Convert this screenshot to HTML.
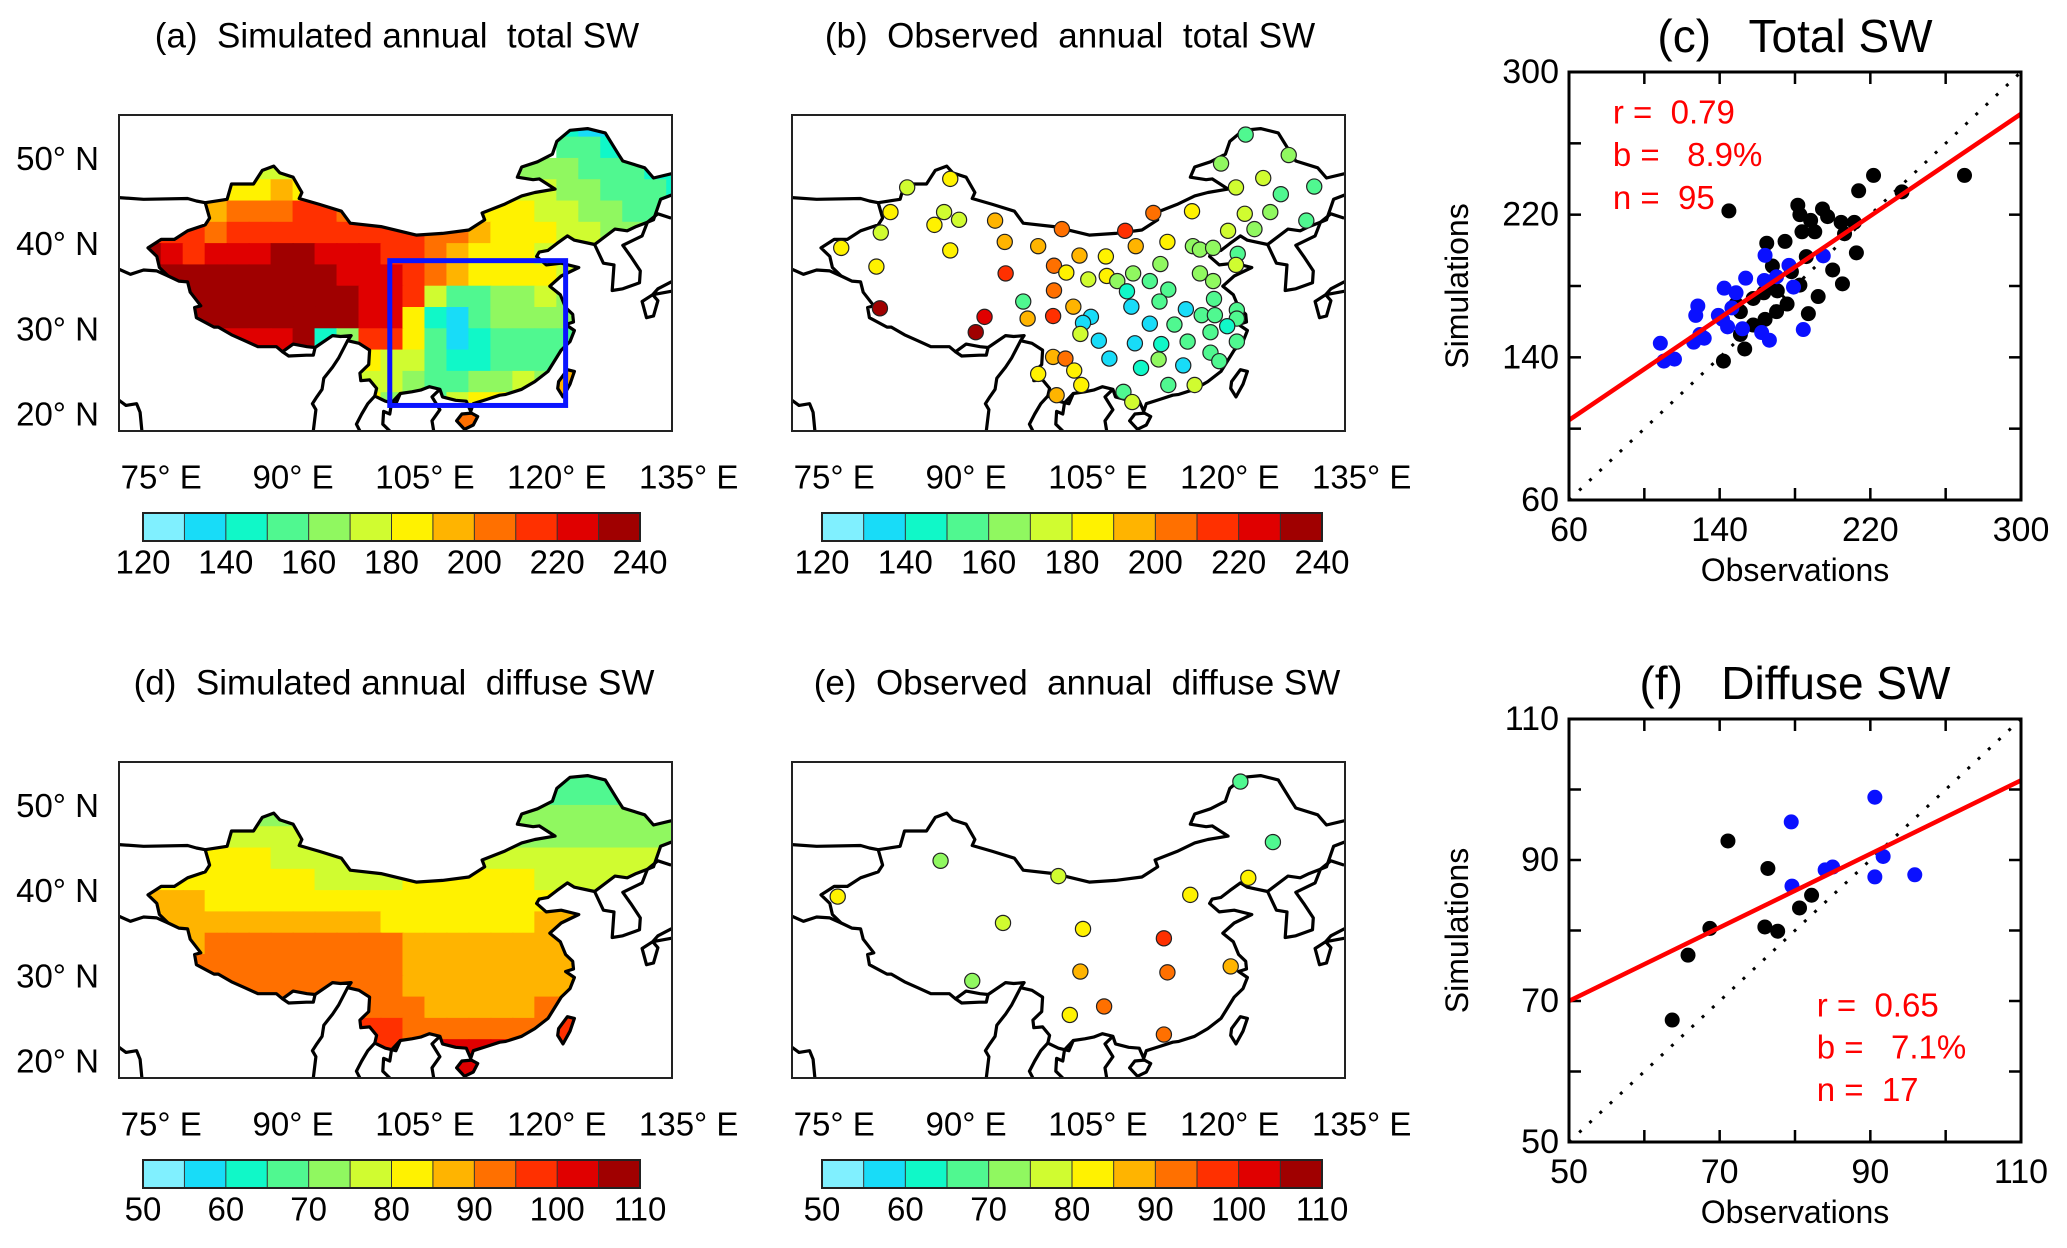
<!DOCTYPE html>
<html><head><meta charset="utf-8">
<style>
html,body{margin:0;padding:0;background:#fff;}
svg{display:block;font-family:"Liberation Sans",Arial,sans-serif;}
text{white-space:pre;}
</style></head>
<body>
<svg id="fig" xmlns="http://www.w3.org/2000/svg" width="2067" height="1248" viewBox="0 0 2067 1248"></svg>
<script>
// ---------- DATA ----------
const palette = ["#80f0ff","#18dcf8","#10f8c8","#50f890","#90f860","#d0fc30","#fff200","#ffb400","#ff7000","#ff3000","#e00000","#a00000"];
const totalTicks = ["120","140","160","180","200","220","240"];
const diffuseTicks = ["50","60","70","80","90","100","110"];
const lonTicks = [75,90,105,120,135];
const latTicks = [50,40,30,20];
// Simulated annual total SW, 2.5deg cells (bin index 0-11 as chars), rows from 55N down, cols from 72.5E
const gridTotal = [
"...................2112..",
"...................332222",
"....5555........544433322",
"...6667667.....6555443332",
".777888998888776665544333",
"9998999999999887666554433",
"ba9aaabbaaa99876665544444",
"bbbbbbbbbaaa9876666555555",
"bbbbbbbbbbaa9533445444444",
"aabbbbbbbbaa6213444444444",
"aaaaaaab24996312333333333",
"aaaaaaaaaa655322333333333",
"6666666666554334454777777",
"6666666666644356666777777",
"8888888888888888888888888"
];
// Simulated annual diffuse SW
const gridDiffuse = [
"3333333333333333333333333",
"3333333333333333333333333",
"4444444444444444444444444",
"5555555555555555544444444",
"5556665555555555555555555",
"6666666655556666665555555",
"7776666666666666666666666",
"7777777777766666667777777",
"7778888888887777777777777",
"8888888888887777777777777",
"8888888888887777777777777",
"8888888888888777778888888",
"9999999999998888888999999",
"9999999999999aaaa99999999",
"aaaaaaaaaaaaaaaaaaaaaaaaa"
];
// Observed total SW stations
const obsTotalLon = [121.8,126.7,119.0,123.8,129.6,120.7,125.8,88.2,83.3,81.4,87.5,86.4,89.2,93.3,80.3,75.8,88.2,79.8,111.3,115.7,121.7,124.6,128.7,100.9,108.1,119.8,122.8,94.4,98.2,109.3,112.9,115.8,116.6,118.1,120.9,102.9,105.9,100.0,101.4,112.1,120.7,94.5,103.9,106.0,107.2,109.0,110.9,116.6,118.1,100.0,108.3,113.0,118.2,112.0,80.2,96.5,102.2,108.8,115.0,116.8,118.3,120.8,120.8,92.1,97.0,99.9,104.2,103.3,110.9,113.7,119.7,91.1,103.0,105.1,109.2,112.2,115.2,117.8,120.8,99.9,101.3,106.3,111.9,117.8,118.8,102.3,109.9,114.7,98.2,103.1,107.9,113.0,116.0,100.3,108.9];
const obsTotalLat = [52.8,50.4,49.4,47.7,46.7,46.6,45.8,47.6,46.6,43.7,43.7,42.2,42.8,42.7,41.3,39.5,39.2,37.3,43.6,43.8,43.5,43.7,42.7,41.7,41.5,41.5,41.7,40.2,39.7,39.7,40.2,39.7,39.3,39.5,38.8,38.6,38.5,37.4,36.6,37.6,37.5,36.5,35.8,36.2,35.6,36.5,35.6,36.5,35.6,34.5,34.4,34.6,33.5,33.2,32.4,33.2,32.6,32.6,32.3,31.6,31.6,32.2,31.2,31.4,31.2,31.5,31.4,30.7,30.6,30.5,30.3,29.6,29.4,28.6,28.3,28.2,28.5,29.6,28.5,26.7,26.5,26.5,26.4,27.2,26.2,25.1,25.4,25.7,24.7,23.4,22.6,23.4,23.4,22.2,21.4];
const obsTotalBin = [3,4,4,5,3,5,3,6,5,6,5,6,5,7,5,6,6,6,8,6,5,4,3,8,9,5,4,7,7,7,6,4,4,4,3,7,6,8,6,4,5,9,5,6,4,4,3,4,4,8,2,3,3,3,11,3,7,1,1,3,3,3,3,10,7,9,1,1,1,3,2,11,5,1,1,2,3,3,3,7,8,1,4,3,3,6,2,1,6,6,3,3,5,7,5];
// Observed diffuse SW stations
const obsDiffLon = [121.2,124.9,87.1,100.5,75.4,115.5,122.1,94.2,103.3,112.5,90.7,103.0,112.9,120.1,105.7,101.8,112.5];
const obsDiffLat = [52.8,45.7,43.5,41.7,39.3,39.5,41.5,36.2,35.5,34.4,29.4,30.5,30.4,31.1,26.4,25.4,23.1];
const obsDiffBin = [3,3,4,5,6,6,6,5,6,9,4,7,8,7,8,6,8];
// Scatter (c) total SW
const cBlackObs = [221.7,270,213.8,236.8,144.9,181.5,194.6,182.6,188.3,197.3,204.5,211.5,206.3,190.5,183.7,174.7,165,186,212.6,168,200,205.2,178.1,182.6,168,170.6,192.3,157.8,175.8,170.2,187.1,164.1,151,157.8,151,153.3,142,148.7,163.4];
const cBlackSim = [242,242,233.4,232.8,222.1,225.3,223.2,220,216.8,218.9,215.7,215.7,209.3,210.4,210.4,205,204,196.5,198.6,191.2,189,181.2,188,180.5,179.4,177.3,174.1,173,169.9,165.6,164.5,161.3,165.6,158.1,152.8,144.7,137.9,169.9,176.2];
const cBlueObs = [164.1,195,176.8,153.8,163.7,170.2,179.2,142.4,128.4,127.3,141.5,148.7,146.5,152.1,162.3,166.4,184.4,129.5,131.8,126.2,108.5,110.4,116,139.3,144.2];
const cBlueSim = [197.2,196.9,191.6,184.4,183.1,185.2,179.4,178.8,168.8,163.5,161.3,176.2,167.7,156,153.9,149.6,155.6,152.8,150.7,148.5,147.9,137.9,139,163.5,157.1];
const cFitX = [60,300];
const cFitY = [104.8,276.5];
const cStats = ["r =  0.79","b =   8.9%","n =  95"];
const cXTicks = [60,140,220,300];
const cYTicks = [60,140,220,300];
// Scatter (f) diffuse SW
const fBlackObs = [63.7,65.8,68.7,71.1,76.4,76.0,77.7,80.6,82.2];
const fBlackSim = [67.3,76.5,80.3,92.7,88.8,80.5,79.9,83.2,85.0];
const fBlueObs = [79.5,90.6,79.6,84.0,85.0,91.7,90.6,95.9];
const fBlueSim = [95.4,98.9,86.3,88.6,89.0,90.5,87.6,87.9];
const fFitX = [50,110];
const fFitY = [70.0,101.3];
const fStats = ["r =  0.65","b =   7.1%","n =  17"];
const fXTicks = [50,70,90,110];
const fYTicks = [50,70,90,110];
// Geography (lon, lat)
const chinaBorder = [[73.5,39.5],[75,40.5],[76.5,40.5],[78,41.5],[80,42.2],[80.5,43],[80,44.8],[82.5,45.2],[83,47],[85.5,47],[86.5,48.6],[87.8,49.1],[88.5,48.3],[90,47.8],[91,46],[90.7,45.3],[93,44.6],[95.5,43.8],[96.5,42.4],[100,42],[104,41],[107,41.2],[110,41.6],[111.8,42.8],[111.5,43.6],[114,44.6],[116,45.6],[117.5,46],[119.8,46.4],[118,47.6],[117.3,47.5],[115.5,47.8],[116,49],[117.8,49.6],[119.5,50.5],[120,52],[121.5,53.3],[123.5,53.5],[125.5,53],[127,50.5],[127.5,49.7],[130,48.9],[131,47.7],[133,48.2],[134.7,48.3],[133.8,46],[131.8,45.2],[131,42.8],[130.3,42.5],[129,42],[128,41.5],[126.6,41.7],[124.3,39.9],[122,40.4],[121.2,40.9],[120,40],[119,39.2],[118,39],[117.7,38.5],[118.8,37.5],[120.5,37.7],[122.5,37.2],[120.5,36.2],[119.2,35],[120.4,34],[121,32.5],[121.8,31.7],[121.9,30.8],[121,30.5],[122,29.8],[121.5,28.5],[120.5,27.5],[119.6,26],[119,25],[117.5,23.8],[116,22.9],[114.2,22.3],[113.5,22.2],[112,21.7],[110.5,21.2],[110.2,20.3],[109.7,21.5],[108.5,21.6],[107,22],[106.7,22.9],[105.5,23.2],[104.5,22.8],[103.5,22.6],[102.2,22.4],[101.7,21.2],[100.5,21.5],[99.3,22.1],[99.5,23],[98.7,24],[97.7,23.9],[97.6,24.8],[98.6,25.8],[98.7,27.5],[97.5,28.3],[96.2,28.6],[96.6,29.2],[95.4,29.1],[94.5,29.2],[92.5,27.8],[91.6,27.9],[90,28.2],[88.8,27.3],[88.1,27.9],[86,27.9],[84.5,28.6],[83,29.3],[81.5,30.2],[81,30.2],[79,31.3],[78.8,32.5],[79.5,32.7],[78.3,34.3],[78,35.5],[77,35.6],[75.8,36.2],[74.8,37.2],[74.5,38.5],[73.5,39.5]];
const hainan = [[108.6,19.2],[109.5,18.2],[110.5,18.7],[111,19.7],[110.3,20.1],[109.2,20]];
const taiwan = [[120.1,23],[120.7,22],[121.5,23.5],[122,25],[121.2,25.2],[120.2,23.8]];
const otherLines = [
 [[124.3,39.9],[125.3,37.7],[126.5,37.5],[126.3,34.5],[127.5,34.7],[129.4,35.4],[129.5,36.8],[128.4,38.5],[127.5,39.8],[129.7,40.9],[130.3,42.5]],
 [[130.9,34],[131.5,33.3],[131,31.5],[130.2,31.3],[129.7,33.2],[130.9,34],[133,34.4],[135,34.6],[135,35.6],[133,35.5],[131.5,34.7],[130.9,34]],
 [[134.7,48.3],[136,49]],
 [[130.3,42.5],[131.5,43.5],[133,43]],
 [[70.2,21.6],[71,21],[72.2,21.2],[72.6,20.2],[72.8,18]],
 [[92.3,18],[92.6,20.5],[92.2,21.2],[92.7,22],[93.3,22.9],[93.5,24.2],[94.5,25.5],[95.2,26.6],[96.2,28.6]],
 [[88.8,27.3],[89.5,26.8],[91.5,26.9],[92.3,26.9],[92.5,27.8]],
 [[99.3,22.1],[98.5,21.2],[97.8,20],[97.2,18.8],[97.6,18]],
 [[102.2,22.4],[101.2,21.3],[101,20],[100.3,20.3],[100.2,18.8],[101,18]],
 [[106.7,22.9],[105.8,22],[106.7,20.5],[105.8,19.2],[106,18]],
 [[75.8,36.2],[74.5,36.8],[73,36.9],[71.5,36.4],[70.2,37]],
 [[80,44.8],[79,45],[78,45.3],[73,45.2],[70.2,45.4]]
];
const blueBox = [101,121,21,38];

// ---------- HELPERS ----------
const NS = "http://www.w3.org/2000/svg";
const svg = document.getElementById("fig");
function mk(tag, attrs, parent) {
  const e = document.createElementNS(NS, tag);
  for (const k in attrs) e.setAttribute(k, attrs[k]);
  (parent || svg).appendChild(e);
  return e;
}
function txt(str, x, y, size, anchor, parent, fill) {
  const t = mk("text", {x: x, y: y, "font-size": size, "text-anchor": anchor || "middle", "dominant-baseline": "central", fill: fill || "#000"}, parent);
  t.textContent = str;
  return t;
}
const LON0 = 70.2, LON1 = 133.1, LAT0 = 55.1, LAT1 = 18.0, MW = 553, MH = 316;
function proj(box, lon, lat) {
  return [box.x + (lon - LON0) / (LON1 - LON0) * MW, box.y + (LAT0 - lat) / (LAT0 - LAT1) * MH];
}
function ptsStr(box, arr) { return arr.map(p => proj(box, p[0], p[1]).map(v => v.toFixed(1)).join(",")).join(" "); }

function drawMapFrame(box, id, title, labelX) {
  const g = mk("g", {});
  
  
  const tt = txt(title, labelX, box.y - 79, 35, "middle", g);
  
  
  const cp = mk("clipPath", {id: "clip-" + id}, g);
  mk("polygon", {points: ptsStr(box, chinaBorder)}, cp);
  mk("polygon", {points: ptsStr(box, hainan)}, cp);
  mk("polygon", {points: ptsStr(box, taiwan)}, cp);
  const fc = mk("clipPath", {id: "frame-" + id}, g);
  mk("rect", {x: box.x, y: box.y, width: MW, height: MH}, fc);
  return g;
}
function drawGrid(g, box, id, grid) {
  const outer = mk("g", {"clip-path": "url(#frame-" + id + ")"}, g);
  const cells = mk("g", {"clip-path": "url(#clip-" + id + ")"}, outer);
  
  
  grid.forEach((row, r) => {
    for (let c = 0; c < row.length; c++) {
      const ch = row[c];
      if (ch === ".") continue;
      const bin = parseInt(ch, 16);
      const lonA = 72.5 + 2.5 * c, latA = 55 - 2.5 * r;
      const lonS = c === 0 ? 70 : lonA;
      const p0 = proj(box, lonS, latA), p1 = proj(box, lonA + 2.5, latA - 2.5);
      const rc = mk("rect", {x: p0[0] - 0.5, y: p0[1] - 0.5, width: p1[0] - p0[0] + 1, height: p1[1] - p0[1] + 1, fill: palette[bin]}, cells);
      
      
    }
  });
}
function drawBorders(g, box, id) {
  const lg = mk("g", {"clip-path": "url(#frame-" + id + ")", fill: "none", stroke: "#000", "stroke-width": 3.2, "stroke-linejoin": "round"}, g);
  
  
  mk("polygon", {points: ptsStr(box, chinaBorder)}, lg);
  mk("polygon", {points: ptsStr(box, hainan)}, lg);
  mk("polygon", {points: ptsStr(box, taiwan)}, lg);
  otherLines.forEach(l => mk("polyline", {points: ptsStr(box, l)}, lg));
  const fr = mk("rect", {x: box.x, y: box.y, width: MW, height: MH, fill: "none", stroke: "#222", "stroke-width": 2}, g);
  
  
}
function drawLatLabels(box, id) {
  latTicks.forEach(lat => {
    const y = proj(box, LON0, lat)[1];
    const t = txt(lat + "° N", box.x - 20, y, 33, "end");
    
    
  });
}
function drawLonLabels(box, id) {
  lonTicks.forEach(lon => {
    const x = proj(box, lon, 30)[0];
    const t = txt(lon + "° E", x, box.y + MH + 46, 33, "middle");
    
    
  });
}
function drawColorbar(x0, x1, y, ticks, id) {
  const g = mk("g", {});
  
  
  const w = (x1 - x0) / palette.length;
  palette.forEach((c, i) => {
    const r = mk("rect", {x: x0 + i * w, y: y, width: w + 0.5, height: 28, fill: c}, g);
    
    
  });
  for (let i = 1; i < palette.length; i++) mk("line", {x1: x0 + i * w, x2: x0 + i * w, y1: y, y2: y + 28, stroke: "#333", "stroke-width": 1}, g);
  mk("rect", {x: x0, y: y, width: x1 - x0, height: 28, fill: "none", stroke: "#222", "stroke-width": 2}, g);
  ticks.forEach((t, i) => {
    const tx = txt(t, x0 + i * (x1 - x0) / (ticks.length - 1), y + 49, 33, "middle", g);
    
    
  });
}
function drawStations(g, box, lons, lats, bins) {
  lons.forEach((lon, i) => {
    const p = proj(box, lon, lats[i]);
    const c = mk("circle", {cx: p[0], cy: p[1], r: 7.6, fill: palette[bins[i]], stroke: "#222", "stroke-width": 1.2}, g);
    
    
  });
}

// ---------- MAPS ----------
const boxA = {x: 119, y: 115}, boxB = {x: 792, y: 115}, boxD = {x: 119, y: 762}, boxE = {x: 792, y: 762};
let g;
g = drawMapFrame(boxA, "panel-a", "(a)  Simulated annual  total SW", 397);
drawGrid(g, boxA, "panel-a", gridTotal);
drawBorders(g, boxA, "panel-a");
{
  const p0 = proj(boxA, blueBox[0], blueBox[3]), p1 = proj(boxA, blueBox[1], blueBox[2]);
  const bb = mk("rect", {x: p0[0], y: p0[1], width: p1[0] - p0[0], height: p1[1] - p0[1], fill: "none", stroke: "#0a14ff", "stroke-width": 5}, g);
  
  
}
drawLatLabels(boxA, "panel-a"); drawLonLabels(boxA, "panel-a");
drawColorbar(143, 640, 513, totalTicks, "panel-a");

g = drawMapFrame(boxB, "panel-b", "(b)  Observed  annual  total SW", 1070);
drawBorders(g, boxB, "panel-b");
drawStations(g, boxB, obsTotalLon, obsTotalLat, obsTotalBin);
drawLonLabels(boxB, "panel-b");
drawColorbar(822, 1322, 513, totalTicks, "panel-b");

g = drawMapFrame(boxD, "panel-d", "(d)  Simulated annual  diffuse SW", 394);
drawGrid(g, boxD, "panel-d", gridDiffuse);
drawBorders(g, boxD, "panel-d");
drawLatLabels(boxD, "panel-d"); drawLonLabels(boxD, "panel-d");
drawColorbar(143, 640, 1160, diffuseTicks, "panel-d");

g = drawMapFrame(boxE, "panel-e", "(e)  Observed  annual  diffuse SW", 1077);
drawBorders(g, boxE, "panel-e");
drawStations(g, boxE, obsDiffLon, obsDiffLat, obsDiffBin);
drawLonLabels(boxE, "panel-e");
drawColorbar(822, 1322, 1160, diffuseTicks, "panel-e");

// ---------- SCATTERS ----------
function scatter(id, ax, dom, title, xt, yt, bo, bs, uo, us, fx, fy, stats, statPos) {
  const G = mk("g", {});
  
  
  const X = v => ax.l + (v - dom[0]) / (dom[1] - dom[0]) * (ax.r - ax.l);
  const Y = v => ax.b - (v - dom[0]) / (dom[1] - dom[0]) * (ax.b - ax.t);
  const tt = txt(title, (ax.l + ax.r) / 2, ax.t - 36, 46, "middle", G);
  
  
  const cp = mk("clipPath", {id: "clip-" + id}, G);
  mk("rect", {x: ax.l, y: ax.t, width: ax.r - ax.l, height: ax.b - ax.t}, cp);
  const step = (xt[1] - xt[0]) / 2;
  for (let v = dom[0]; v <= dom[1] + 1e-6; v += step) {
    mk("line", {x1: X(v), x2: X(v), y1: ax.b, y2: ax.b - 12, stroke: "#000", "stroke-width": 2.5}, G);
    mk("line", {x1: X(v), x2: X(v), y1: ax.t, y2: ax.t + 12, stroke: "#000", "stroke-width": 2.5}, G);
    mk("line", {x1: ax.l, x2: ax.l + 12, y1: Y(v), y2: Y(v), stroke: "#000", "stroke-width": 2.5}, G);
    mk("line", {x1: ax.r, x2: ax.r - 12, y1: Y(v), y2: Y(v), stroke: "#000", "stroke-width": 2.5}, G);
  }
  xt.forEach(v => { const t = txt(String(v), X(v), ax.b + 30, 34, "middle", G);   });
  yt.forEach(v => { const t = txt(String(v), ax.l - 10, Y(v), 34, "end", G);   });
  const xl = txt("Observations", (ax.l + ax.r) / 2, ax.b + 70, 32, "middle", G);
  
  
  const yl = txt("Simulations", 0, 0, 32, "middle", G);
  yl.setAttribute("transform", "translate(" + (ax.l - 112) + "," + ((ax.t + ax.b) / 2) + ") rotate(-90)");
  
  
  const inner = mk("g", {"clip-path": "url(#clip-" + id + ")"}, G);
  const oneone = mk("line", {x1: X(dom[0]), y1: Y(dom[0]), x2: X(dom[1]), y2: Y(dom[1]), stroke: "#000", "stroke-width": 3, "stroke-dasharray": "3 11"}, inner);
  
  
  bo.forEach((v, i) => { const c = mk("circle", {cx: X(v), cy: Y(bs[i]), r: 7.5, fill: "#000"}, inner);   });
  uo.forEach((v, i) => { const c = mk("circle", {cx: X(v), cy: Y(us[i]), r: 7.5, fill: "#0a10ff"}, inner);   });
  const fl = mk("line", {x1: X(fx[0]), y1: Y(fy[0]), x2: X(fx[1]), y2: Y(fy[1]), stroke: "#ff0000", "stroke-width": 4.5}, inner);
  
  
  mk("rect", {x: ax.l, y: ax.t, width: ax.r - ax.l, height: ax.b - ax.t, fill: "none", stroke: "#000", "stroke-width": 3}, G);
  stats.forEach((s, i) => {
    const t = txt(s, ax.l + statPos[0] * (ax.r - ax.l), ax.t + (statPos[1] + 0.1 * i) * (ax.b - ax.t), 33, "start", G, "#ff0000");
    
    
  });
}
scatter("panel-c", {l: 1569, r: 2021, t: 72, b: 500}, [60, 300], "(c)   Total SW", cXTicks, cYTicks, cBlackObs, cBlackSim, cBlueObs, cBlueSim, cFitX, cFitY, cStats, [0.097, 0.093]);
scatter("panel-f", {l: 1569, r: 2021, t: 719, b: 1142}, [50, 110], "(f)   Diffuse SW", fXTicks, fYTicks, fBlackObs, fBlackSim, fBlueObs, fBlueSim, fFitX, fFitY, fStats, [0.548, 0.676]);
</script>
</body></html>
